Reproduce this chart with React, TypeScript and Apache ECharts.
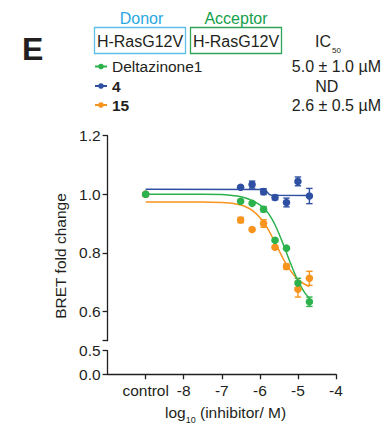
import React, { useEffect, useRef } from "react";
import * as echarts from "echarts";

// ---- data ----
const xTickValues = [-9, -8, -7, -6, -5, -4];
const xTickLabels = ["control", "-8", "-7", "-6", "-5", "-4"];
const upperTickValues = [0.6, 0.8, 1.0, 1.2];
const lowerTickValues = [0, 0.5];

// log10 dose; first entry is the control (drawn at -9)
const doseLog = [-9, -6.505, -6.204, -5.903, -5.602, -5.301, -5.0, -4.699];

const deltaMean = [1.0, 0.976, 0.969, 0.949, 0.843, 0.816, 0.697, 0.633];
const deltaSem = [0.004, 0.004, 0.004, 0.009, 0.004, 0.004, 0.016, 0.016];
const c4Mean = [1.0, 1.024, 1.033, 1.009, 0.989, 0.972, 1.044, 0.994];
const c4Sem = [0.004, 0.004, 0.012, 0.01, 0.008, 0.015, 0.015, 0.026];
const c15Mean = [1.0, 0.912, 0.88, 0.9, 0.819, 0.753, 0.676, 0.713];
const c15Sem = [0.004, 0.009, 0.004, 0.013, 0.005, 0.009, 0.027, 0.024];

// fitted curves
const fitX = [-9, -8, -7.5, -7, -6.8, -6.6, -6.4, -6.2, -6.0, -5.9, -5.8, -5.7, -5.6, -5.5, -5.4, -5.3, -5.2, -5.1, -5.0, -4.9, -4.8, -4.7];
const deltaFit = [1.0, 1.0, 1.0, 0.999, 0.997, 0.994, 0.988, 0.978, 0.964, 0.953, 0.939, 0.919, 0.895, 0.866, 0.834, 0.8, 0.766, 0.734, 0.705, 0.68, 0.66, 0.645];
const c15Fit = [0.974, 0.974, 0.974, 0.972, 0.97, 0.966, 0.959, 0.945, 0.921, 0.904, 0.884, 0.86, 0.835, 0.809, 0.783, 0.76, 0.74, 0.723, 0.71, 0.699, 0.691, 0.685];
const c4FitX = [-9, -5.9, -5.85, -5.8, -5.75, -5.7, -4.7];
const c4Fit = [1.017, 1.016, 1.013, 1.006, 0.999, 0.997, 0.996];

const seriesNames = ["Deltazinone1", "4", "15"];
const ic50Labels = ["5.0 ± 1.0 µM", "ND", "2.6 ± 0.5 µM"];

const GREEN = "#2bb24c";
const BLUE = "#2f4fa2";
const ORANGE = "#f7941d";
const INK = "#231f20";
const FONT = "Liberation Sans, Arial, Helvetica, sans-serif";

const pairs = (xs: number[], ys: number[]) => xs.map((x, i) => [x, ys[i]]);
const errData = (xs: number[], m: number[], s: number[]) =>
  xs.map((x, i) => [x, m[i] - s[i], m[i] + s[i]]);

const errRender = (color: string) => (params: any, api: any) => {
  const x = api.value(0);
  const lo = api.coord([x, api.value(1)]);
  const hi = api.coord([x, api.value(2)]);
  const w = 3.2;
  const st = { stroke: color, lineWidth: 1.4 };
  return {
    type: "group",
    children: [
      { type: "line", shape: { x1: hi[0], y1: hi[1], x2: lo[0], y2: lo[1] }, style: st },
      { type: "line", shape: { x1: hi[0] - w, y1: hi[1], x2: hi[0] + w, y2: hi[1] }, style: st },
      { type: "line", shape: { x1: lo[0] - w, y1: lo[1], x2: lo[0] + w, y2: lo[1] }, style: st },
    ],
  };
};

export default function App() {
  const ref = useRef<HTMLDivElement>(null);
  useEffect(() => {
    if (!ref.current) return;
    const chart = echarts.init(ref.current, null, { renderer: "svg" });
    const axisLine = { show: true, lineStyle: { color: INK, width: 1.3 } };
    const label = { color: INK, fontSize: 15.5, fontFamily: FONT };
    const gridL = 107.6;
    const gridW = 228.4;
    const legendTops = [53.5, 73, 92];
    chart.setOption({
      animation: false,
      backgroundColor: "#fff",
      grid: [
        { left: gridL, top: 135.7, width: gridW, height: 205 },
        { left: gridL, top: 350.7, width: gridW, height: 23.6 },
      ],
      xAxis: [
        { type: "value", gridIndex: 0, min: -10, max: -4, show: false },
        {
          type: "value",
          gridIndex: 1,
          min: -10,
          max: -4,
          axisLine,
          splitLine: { show: false },
          axisTick: { show: true, length: 5, customValues: xTickValues, lineStyle: { color: INK, width: 1.3 } },
          axisLabel: {
            ...label,
            margin: 8,
            customValues: xTickValues,
            formatter: (v: number) => xTickLabels[xTickValues.indexOf(v)] ?? "",
          },
        },
      ],
      yAxis: [
        {
          type: "value",
          gridIndex: 0,
          min: 0.5,
          max: 1.2,
          axisLine,
          splitLine: { show: false },
          axisTick: { show: true, length: 5, customValues: [0.5, ...upperTickValues], lineStyle: { color: INK, width: 1.3 } },
          axisLabel: { ...label, margin: 7, customValues: upperTickValues, formatter: (v: number) => v.toFixed(1) },
        },
        {
          type: "value",
          gridIndex: 1,
          min: 0,
          max: 0.5,
          axisLine,
          splitLine: { show: false },
          axisTick: { show: true, length: 5, customValues: lowerTickValues, lineStyle: { color: INK, width: 1.3 } },
          axisLabel: { ...label, margin: 7, customValues: lowerTickValues, formatter: (v: number) => v.toFixed(1) },
        },
      ],
      legend: seriesNames.map((n, i) => ({
        data: [n],
        left: 89,
        top: legendTops[i],
        itemWidth: 12,
        itemHeight: 7,
        itemGap: 0,
        selectedMode: false,
        textStyle: { color: INK, fontSize: 15.5, fontFamily: FONT, fontWeight: i === 0 ? "normal" : "bold" },
      })),
      series: [
        { name: seriesNames[1], type: "line", data: pairs(c4FitX, c4Fit), showSymbol: false, symbol: "circle", symbolSize: 7, lineStyle: { width: 1.5, color: BLUE }, itemStyle: { color: BLUE }, xAxisIndex: 0, yAxisIndex: 0 },
        { name: seriesNames[2], type: "line", data: pairs(fitX, c15Fit), smooth: 0.3, showSymbol: false, symbol: "circle", symbolSize: 7, lineStyle: { width: 1.5, color: ORANGE }, itemStyle: { color: ORANGE }, xAxisIndex: 0, yAxisIndex: 0 },
        { name: seriesNames[0], type: "line", data: pairs(fitX, deltaFit), smooth: 0.3, showSymbol: false, symbol: "circle", symbolSize: 7, lineStyle: { width: 1.5, color: GREEN }, itemStyle: { color: GREEN }, xAxisIndex: 0, yAxisIndex: 0 },
        { type: "custom", renderItem: errRender(BLUE), data: errData(doseLog, c4Mean, c4Sem), encode: { x: 0, y: [1, 2] }, xAxisIndex: 0, yAxisIndex: 0, z: 3 },
        { type: "custom", renderItem: errRender(ORANGE), data: errData(doseLog, c15Mean, c15Sem), encode: { x: 0, y: [1, 2] }, xAxisIndex: 0, yAxisIndex: 0, z: 3 },
        { type: "custom", renderItem: errRender(GREEN), data: errData(doseLog, deltaMean, deltaSem), encode: { x: 0, y: [1, 2] }, xAxisIndex: 0, yAxisIndex: 0, z: 3 },
        { type: "scatter", data: pairs(doseLog, c4Mean), symbolSize: 7.5, itemStyle: { color: BLUE, opacity: 1 }, xAxisIndex: 0, yAxisIndex: 0, z: 4 },
        { type: "scatter", data: pairs(doseLog, c15Mean), symbolSize: 7.5, itemStyle: { color: ORANGE, opacity: 1 }, xAxisIndex: 0, yAxisIndex: 0, z: 4 },
        { type: "scatter", data: pairs(doseLog, deltaMean), symbolSize: 7.5, itemStyle: { color: GREEN, opacity: 1 }, xAxisIndex: 0, yAxisIndex: 0, z: 5 },
      ],
      graphic: [
        { type: "text", x: 22, y: 33, style: { text: "E", font: `bold 32px ${FONT}`, fill: INK, verticalAlign: "alphabetic" } },
        { type: "text", x: 141.5, y: 18.5, style: { text: "Donor", font: `16px ${FONT}`, fill: "#2aa7df", align: "center", verticalAlign: "middle" } },
        { type: "text", x: 236, y: 18.5, style: { text: "Acceptor", font: `16px ${FONT}`, fill: "#14a04a", align: "center", verticalAlign: "middle" } },
        { type: "rect", shape: { x: 94.5, y: 27.5, width: 91, height: 26 }, style: { fill: "none", stroke: "#5bbfe8", lineWidth: 1.3 } },
        { type: "rect", shape: { x: 190.5, y: 27.5, width: 91, height: 26 }, style: { fill: "none", stroke: "#2fa55a", lineWidth: 1.3 } },
        { type: "text", x: 140, y: 41.5, style: { text: "H-RasG12V", font: `16px ${FONT}`, fill: INK, align: "center", verticalAlign: "middle" } },
        { type: "text", x: 236, y: 41.5, style: { text: "H-RasG12V", font: `16px ${FONT}`, fill: INK, align: "center", verticalAlign: "middle" } },
        {
          type: "text",
          x: 315,
          y: 49,
          style: {
            text: "{a|IC}{b|50}",
            fill: INK,
            verticalAlign: "bottom",
            rich: {
              a: { fontSize: 16, fontFamily: FONT, color: INK, lineHeight: 18, verticalAlign: "bottom" },
              b: { fontSize: 8, fontFamily: FONT, color: INK, lineHeight: 18, verticalAlign: "bottom", padding: [0, 0, -5, 1] },
            },
          },
        },
        { type: "text", x: 381, y: 66.7, style: { text: ic50Labels[0], font: `16px ${FONT}`, fill: INK, align: "right", verticalAlign: "middle" } },
        { type: "text", x: 326.7, y: 86, style: { text: ic50Labels[1], font: `16px ${FONT}`, fill: INK, align: "center", verticalAlign: "middle" } },
        { type: "text", x: 381, y: 105, style: { text: ic50Labels[2], font: `16px ${FONT}`, fill: INK, align: "right", verticalAlign: "middle" } },
        { type: "text", x: 60, y: 256, rotation: Math.PI / 2, style: { text: "BRET fold change", font: `15.5px ${FONT}`, fill: INK, align: "center", verticalAlign: "middle" } },
        {
          type: "text",
          x: 165,
          y: 420,
          style: {
            text: "{a|log}{b|10}{a| (inhibitor/ M)}",
            fill: INK,
            verticalAlign: "bottom",
            rich: {
              a: { fontSize: 15.5, fontFamily: FONT, color: INK, lineHeight: 18, verticalAlign: "bottom" },
              b: { fontSize: 9, fontFamily: FONT, color: INK, lineHeight: 18, verticalAlign: "bottom", padding: [0, 0, -4, 0] },
            },
          },
        },
      ],
    });
    return () => chart.dispose();
  }, []);
  return <div ref={ref} style={{ position: "absolute", left: 0, top: 0, width: 387, height: 426 }} />;
}
